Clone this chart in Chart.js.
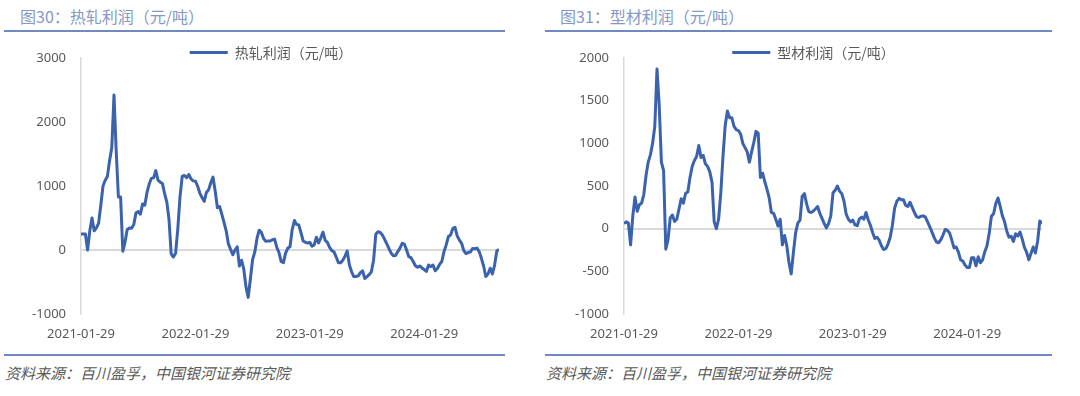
<!DOCTYPE html>
<html lang="zh-CN">
<head>
<meta charset="utf-8">
<title>热轧利润 / 型材利润</title>
<script src="https://cdn.jsdelivr.net/npm/chart.js@4.4.1/dist/chart.umd.min.js"></script>
<style>
    html, body { margin: 0; padding: 0; background: #fff; }
    body { width: 1080px; height: 396px; position: relative; overflow: hidden;
           font-family: "Noto Sans CJK SC", "Noto Sans", sans-serif; }
    .titulo { position: absolute; top: 4px; font-size: 16px; color: #8399c6; white-space: nowrap; }
    .linea { position: absolute; height: 2px; background: #7089c2; }
    .fuente { position: absolute; top: 362px; font-size: 15px; font-style: italic; color: #595959; white-space: nowrap; }
    .caja { position: absolute; top: 38px; width: 540px; height: 311px; }
</style>
</head>
<body>

<div class="titulo" style="left:20px">图30：热轧利润（元/吨）</div>
<div class="titulo" style="left:560px">图31：型材利润（元/吨）</div>
<div class="linea" style="left:4px; width:501px; top:30px"></div>
<div class="linea" style="left:545px; width:507px; top:30px"></div>

<div class="caja" style="left:0"><canvas id="grafico1"></canvas></div>
<div class="caja" style="left:540px"><canvas id="grafico2"></canvas></div>

<div class="linea" style="left:4px; width:501px; top:354px"></div>
<div class="linea" style="left:545px; width:507px; top:354px"></div>
<div class="fuente" style="left:5px">资料来源：百川盈孚，中国银河证券研究院</div>
<div class="fuente" style="left:546px">资料来源：百川盈孚，中国银河证券研究院</div>

<script>
/* --------------- datos (semanal, desde 2021-01-29) --------------- */

const HR_LABEL = '热轧利润（元/吨）';
const SECTION_LABEL = '型材利润（元/吨）';

// 热轧利润
const HR_PROFIT = [
    250, 250, 250, 0, 300, 500, 300, 345, 420, 700,
    1000, 1090, 1150, 1400, 1600, 2420, 1550, 830, 830, -20,
    120, 320, 345, 340, 400, 580, 600, 560, 720, 700,
    900, 1030, 1120, 1130, 1240, 1090, 1060, 1040, 880, 750,
    480, -60, -110, -50, 330, 830, 1150, 1165, 1130, 1180,
    1110, 1080, 1075, 1000, 890, 820, 760, 900, 940, 1050,
    1140, 920, 660, 680, 560, 430, 300, 95, 10, -75,
    0, 50, -250, -160, -300, -580, -740, -450, -150, -30,
    180, 310, 275, 180, 135, 140, 140, 160, 170, 40,
    -40, -180, -200, -50, 30, 50, 320, 460, 400, 390,
    270, 140, 120, 110, 120, 60, 80, 200, 110, 190,
    280, 150, 120, 40, -10, -30, -110, -200, -200, -160,
    -95, -15, -235, -340, -415, -415, -405, -355, -325, -445,
    -415, -385, -340, -155, 245, 285, 275, 235, 165, 95,
    20, -50, -90, -85, -25, 30, 105, 90, 0, -105,
    -120, -180, -245, -270, -250, -280, -305, -335, -235, -260,
    -235, -325, -290, -225, -180, -25, 80, 210, 235, 335,
    355, 220, 155, 105, -10, -55, -40, -30, 25, 20,
    30, -25, -130, -250, -415, -375, -285, -375, -235, -15,
    10
];

// 型材利润
const SECTION_PROFIT = [
    60, 80, 65, -190, 150, 370, 205, 280, 300, 400,
    620, 780, 865, 1000, 1200, 1870, 1450, 780, 680, -240,
    -130, 125, 160, 85, 110, 230, 350, 300, 415, 430,
    600, 730, 800, 845, 975, 835, 860, 760, 730, 665,
    545, 80, 0, 110, 420, 850, 1210, 1380, 1300, 1300,
    1200, 1160, 1150, 1110, 1000, 950, 900, 780, 900, 1010,
    1140, 1120, 600, 650, 550, 460, 360, 190, 180, 110,
    30, 110, -190, -80, -200, -400, -530, -280, -50, 65,
    100, 380, 410, 290, 200, 190, 205, 230, 260, 180,
    120, 60, 10, 60, 150, 420, 450, 500, 440, 410,
    320, 170, 110, 80, 100, 45, 35, 115, 135, 110,
    190, 105, 40, -45, -115, -100, -135, -200, -245, -235,
    -180, -100, 40, 240, 320, 355, 340, 340, 275, 260,
    310, 250, 190, 140, 130, 145, 150, 135, 80, 20,
    -40, -105, -155, -165, -130, -75, -10, -20, -50, -135,
    -225, -215, -275, -365, -380, -425, -455, -455, -340, -340,
    -435, -330, -400, -365, -270, -200, -55, 145, 175, 295,
    360, 260, 150, 80, -30, -100, -90, -150, -60, -85,
    -40, -120, -220, -275, -365, -290, -215, -285, -150, 90,
    60
];

// etiquetas del eje x (semana -> fecha)
const TICK_WEEKS = [0, 52, 104, 156];
const TICK_LABELS = ['2021-01-29', '2022-01-29', '2023-01-29', '2024-01-29'];

/* --------------- configuracion del grafico --------------- */

document.addEventListener('DOMContentLoaded', () => {

    const LINE_COLOR = '#3b62ad';
    const AXIS_GRAY = '#d9d9d9';
    const TEXT_GRAY = '#595959';
    const tickFont = { family: '"Noto Sans", "Noto Sans CJK SC", sans-serif', size: 13 };

    // mueve la leyenda (Excel la pone casi encima del area del grafico)
    const moverLeyenda = (dx, dy) => ({
        id: 'moverLeyenda',
        afterLayout(chart) {
            const l = chart.legend;
            if (!l) return;
            l.left += dx; l.right += dx;
            l.top += dy; l.bottom += dy;
        }
    });

    function grafico(id, label, values, yAxis, axisWidth, padRight, legendDx) {
        const selector = document.getElementById(id);
        if (!selector) {
            console.warn(`No element with id: ${id}`);
            return;
        }

        new Chart(selector, {
            type: 'line',
            data: {
                datasets: [{
                    label: label,
                    data: values.map((v, i) => ({ x: i, y: v })),
                    borderColor: LINE_COLOR,
                    backgroundColor: LINE_COLOR,
                    borderWidth: 3,
                    pointRadius: 0,
                    tension: 0,
                    borderJoinStyle: 'round'
                }]
            },
            plugins: [moverLeyenda(legendDx, 3.5)],
            options: {
                responsive: true,
                maintainAspectRatio: false,
                animation: false,
                layout: { padding: { top: 4, right: padRight, bottom: 5, left: 0 } },
                plugins: {
                    legend: {
                        position: 'top',
                        maxHeight: 16,
                        labels: {
                            boxWidth: 38,
                            boxHeight: 3,
                            padding: 0,
                            color: TEXT_GRAY,
                            font: { family: '"Noto Sans CJK SC", sans-serif', size: 14 },
                            generateLabels: (chart) =>
                                Chart.defaults.plugins.legend.labels.generateLabels(chart)
                                    .map(l => ({ ...l, lineWidth: 0, fillStyle: LINE_COLOR }))
                        }
                    },
                    tooltip: { enabled: false }
                },
                scales: {
                    x: {
                        type: 'linear',
                        min: 0,
                        max: values.length - 1,
                        grid: { display: false, drawTicks: false },
                        border: { display: false },
                        afterBuildTicks: (axis) => {
                            axis.ticks = TICK_WEEKS.map(v => ({ value: v }));
                        },
                        afterFit: (axis) => { axis.height = 30; },
                        ticks: {
                            autoSkip: false,
                            maxRotation: 0,
                            padding: 12,
                            color: TEXT_GRAY,
                            font: tickFont,
                            callback: (value, index) => TICK_LABELS[index]
                        }
                    },
                    y: {
                        min: yAxis.min,
                        max: yAxis.max,
                        afterFit: (axis) => {
                            axis.width = axisWidth;
                            axis.paddingTop = 0;
                            axis.paddingBottom = 0;
                        },
                        grid: {
                            drawTicks: false,
                            lineWidth: 2,
                            color: (ctx) => ctx.tick && ctx.tick.value === 0 ? AXIS_GRAY : 'rgba(0,0,0,0)'
                        },
                        border: { display: true, color: AXIS_GRAY, width: 1.5 },
                        ticks: {
                            stepSize: yAxis.step,
                            padding: 15,
                            color: TEXT_GRAY,
                            font: tickFont,
                            callback: (value) => String(value)
                        }
                    }
                }
            }
        });
    }

    grafico('grafico1', HR_LABEL, HR_PROFIT, { min: -1000, max: 3000, step: 1000 }, 81, 41, 21.5);
    grafico('grafico2', SECTION_LABEL, SECTION_PROFIT, { min: -1000, max: 2000, step: 500 }, 84, 38, 22.5);

});
</script>
</body>
</html>
